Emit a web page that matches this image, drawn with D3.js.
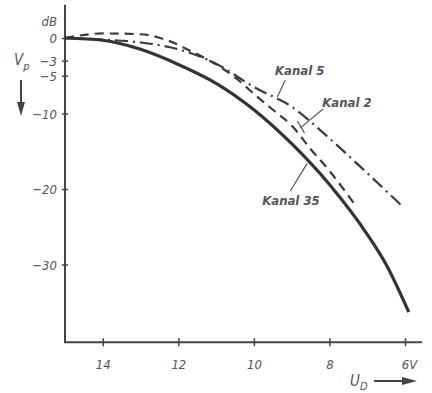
<!DOCTYPE html>
<html>
<head>
<meta charset="utf-8">
<script src="https://cdn.jsdelivr.net/npm/d3@7"></script>
<style>
  body { margin: 0; background: #fff; }
  svg text { font-family: "Liberation Sans Narrow", "DejaVu Sans Condensed", sans-serif; font-style: italic; fill: #555; }
</style>
</head>
<body>
<script>
// Ud in volts, Vp in dB
var kanal35 = [[15,0],[14,-0.3],[13,-1.5],[12,-3.5],[11,-6.0],[10,-9.5],[9,-14.0],[8,-19.4],[7,-26.0],[6.5,-30.0],[5.9,-36.3]];
var kanal5  = [[15,0],[14,-0.2],[13,-0.6],[12,-1.5],[11,-3.4],[10,-6.5],[9,-9.1],[8,-13.3],[7,-17.9],[6.05,-22.4]];
var kanal2  = [[15,0],[14,0.6],[13,0.5],[12.3,-0.3],[11.6,-1.9],[11,-3.5],[10.5,-5.2],[10,-7.4],[9.5,-9.5],[9,-11.6],[8.5,-14.7],[8,-17.6],[7.35,-21.9]];
var yTicks = [0,-3,-5,-10,-20,-30];
var xTicks = [14,12,10,8,6];

const W = 432, H = 393;
var x = d3.scaleLinear().domain([15,6]).range([65,405]);
var y = d3.scaleLinear().domain([0,-40]).range([38,340]);

var svg = d3.select("body").append("svg").attr("width", W).attr("height", H);

var axisColor = "#444";

// axis lines
svg.append("line").attr("x1", x(15)).attr("x2", x(15))
  .attr("y1", y(4.4)).attr("y2", y(-40.3))
  .attr("stroke", axisColor).attr("stroke-width", 2);
svg.append("line").attr("x1", x(15) - 1).attr("x2", x(5.55))
  .attr("y1", y(-40.3)).attr("y2", y(-40.3))
  .attr("stroke", axisColor).attr("stroke-width", 2);

// y axis ticks (crosses)
var yAxis = svg.append("g").attr("transform", "translate(" + x(15) + ",0)")
  .call(d3.axisLeft(y).tickValues(yTicks).tickSize(3).tickPadding(5)
    .tickFormat(function(d){ return d === 0 ? "0" : "\u2212" + Math.abs(d); }));
yAxis.attr("font-family", null);
yAxis.select(".domain").remove();
yAxis.selectAll(".tick line").attr("x1", 3).attr("x2", -3).attr("stroke", axisColor).attr("stroke-width", 1.5);
yAxis.selectAll(".tick text").attr("font-size", 13).attr("dy", "0.35em");

svg.append("text").attr("x", x(15) - 8).attr("y", y(1.6)).attr("text-anchor", "end")
  .attr("font-size", 13).text("dB");

// x axis ticks
var xAxis = svg.append("g").attr("transform", "translate(0," + y(-40.3) + ")")
  .call(d3.axisBottom(x).tickValues(xTicks).tickSize(4).tickPadding(14)
    .tickFormat(function(d){ return d === 6 ? "6V" : d; }));
xAxis.attr("font-family", null);
xAxis.select(".domain").remove();
xAxis.selectAll(".tick line").attr("y1", -4).attr("y2", 4).attr("stroke", axisColor).attr("stroke-width", 1.5);
xAxis.selectAll(".tick text").attr("font-size", 13)
  .attr("dx", function(d){ return d === 6 ? "0.3em" : 0; });

// axis titles
var vp = svg.append("text").attr("x", 14).attr("y", 65).attr("font-size", 15);
vp.append("tspan").text("V");
vp.append("tspan").attr("font-size", 11).attr("dy", 5).text("p");
svg.append("line").attr("x1", 21).attr("x2", 21).attr("y1", 80).attr("y2", 104)
  .attr("stroke", "#444").attr("stroke-width", 2);
svg.append("path").attr("d", "M17,102 L25,102 L21,116 Z").attr("fill", "#444");

var ud = svg.append("text").attr("x", 350).attr("y", 386).attr("font-size", 15);
ud.append("tspan").text("U");
ud.append("tspan").attr("font-size", 11).attr("dy", 4).text("D");
svg.append("line").attr("x1", 374).attr("x2", 404).attr("y1", 381).attr("y2", 381)
  .attr("stroke", "#444").attr("stroke-width", 2);
svg.append("path").attr("d", "M402,377 L402,385 L417,381 Z").attr("fill", "#444");

// curves
var line = d3.line().x(function(d){ return x(d[0]); }).y(function(d){ return y(d[1]); })
  .curve(d3.curveMonotoneX);

svg.append("path").datum(kanal5).attr("d", line).attr("fill", "none")
  .attr("stroke", "#3a3a3a").attr("stroke-width", 2.2).attr("stroke-dasharray", "13,5,2,5");
svg.append("path").datum(kanal2).attr("fill", "none").attr("d", line)
  .attr("stroke", "#3a3a3a").attr("stroke-width", 2.2).attr("stroke-dasharray", "9,6");
svg.append("path").datum(kanal35).attr("fill", "none").attr("d", line)
  .attr("stroke", "#333").attr("stroke-width", 3.2);

// labels with leader lines (positions in data units)
function label(txt, tx, ty, lx1, ly1, lx2, ly2) {
  svg.append("text").attr("x", x(tx)).attr("y", y(ty)).attr("font-size", 13).attr("font-weight", "bold").text(txt);
  svg.append("line").attr("x1", x(lx1)).attr("y1", y(ly1)).attr("x2", x(lx2)).attr("y2", y(ly2))
    .attr("stroke", "#555").attr("stroke-width", 1.2);
}
label("Kanal 5", 9.44, -4.9, 9.17, -5.6, 9.38, -7.8);
label("Kanal 2", 8.19, -9.1, 8.17, -9.4, 8.77, -11.9);
label("Kanal 35", 9.78, -22.1, 9.04, -20.3, 8.59, -16.6);
// small bar at end of Kanal 2 leader
svg.append("line").attr("x1", x(8.85)).attr("y1", y(-11.0)).attr("x2", x(8.66)).attr("y2", y(-12.6))
  .attr("stroke", "#555").attr("stroke-width", 1.2);
</script>
</body>
</html>
